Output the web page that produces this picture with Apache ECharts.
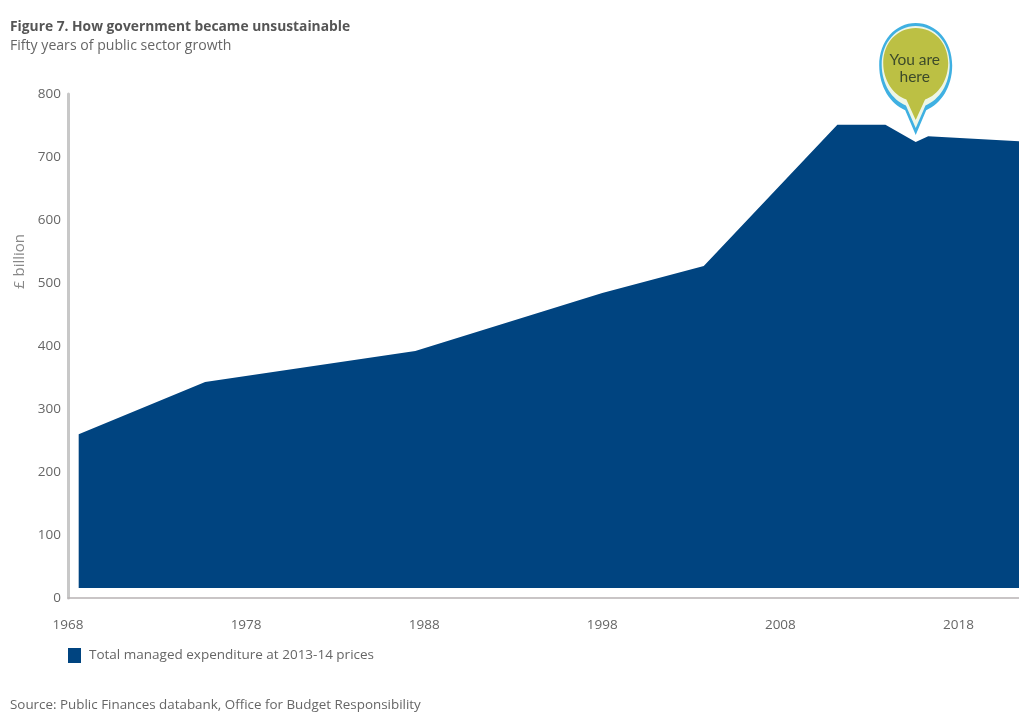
<!DOCTYPE html>
<html>
<head>
<meta charset="utf-8">
<style>html,body{margin:0;padding:0;background:#fff}#c{width:1019px;height:713px}</style>
<script src="https://cdn.jsdelivr.net/npm/echarts@6/dist/echarts.min.js"></script>
</head>
<body>
<div id="c"></div>
<script>
var years = [1968.6, 1975.7, 1987.5, 1998, 2003.7, 2011.2, 2013.9, 2015.6, 2016.3, 2021.4];
var expenditure = [260, 343, 392, 484, 527, 751, 751, 724, 733, 725];
var areaBase = 16;
var seriesName = 'Total managed expenditure at 2013-14 prices';
var titleText = 'Figure 7. How government became unsustainable';
var subtitleText = 'Fifty years of public sector growth';
var sourceText = 'Source: Public Finances databank, Office for Budget Responsibility';
var yAxisName = '£ billion';
var pinText = 'You are\nhere';
var pinAt = [2015.6, 735];

var font = '"Open Sans", "Noto Sans", sans-serif';
var pinPath = 'path://M36.5 113 L26 88 C11 82 0 64 0 43 C0 18 16 0 36.5 0 C57 0 73 18 73 43 C73 64 62 82 47 88 Z';
function pinLayer(w, h, tipLift, colour) {
  return {
    coord: pinAt,
    symbol: pinPath,
    symbolSize: [w, h],
    symbolOffset: [0, -(h / 2) - tipLift],
    itemStyle: {color: colour},
    label: {show: false}
  };
}
var olive = pinLayer(65, 92, 15, '#bcc044');
olive.label = {
  show: true, position: 'inside', offset: [-1, -5],
  formatter: pinText, fontFamily: 'Lato, ' + font, fontSize: 15.5, lineHeight: 17, color: '#3c4a2a'
};

var chart = echarts.init(document.getElementById('c'), null, {renderer: 'canvas'});
chart.setOption({
  animation: false,
  backgroundColor: '#ffffff',
  title: [
    {text: titleText, left: 10, top: 20, padding: 0, textStyle: {fontFamily: font, fontSize: 13.8, fontWeight: 'bold', color: '#555555'}},
    {text: subtitleText, left: 10, top: 39, padding: 0, textStyle: {fontFamily: font, fontSize: 14.1, fontWeight: 'normal', color: '#666666'}},
    {text: sourceText, left: 10, top: 699, padding: 0, textStyle: {fontFamily: font, fontSize: 13.4, fontWeight: 'normal', color: '#666666'}}
  ],
  legend: {
    show: true, left: 68, top: 648, padding: 0, itemWidth: 13, itemHeight: 15, itemGap: 8,
    icon: 'rect',
    textStyle: {fontFamily: font, fontSize: 13.5, color: '#666666', padding: [0, 0, 0, 3]},
    data: [seriesName]
  },
  graphic: [{
    type: 'text', left: 12, top: 234, rotation: Math.PI / 2,
    style: {text: yAxisName, fontFamily: font, fontSize: 15, fill: '#888888'}
  }],
  grid: {left: 68, right: 0, top: 94, bottom: 115},
  xAxis: {
    type: 'value', min: 1968, max: 2021.4, interval: 10,
    axisLine: {show: true, onZero: false, lineStyle: {color: '#b8b2b4', width: 1.5}},
    axisTick: {show: false}, splitLine: {show: false},
    axisLabel: {
      fontFamily: font, fontSize: 13.5, color: '#666666', margin: 20,
      showMaxLabel: false,
      formatter: function (v) { return String(v); }
    }
  },
  yAxis: {
    type: 'value', min: 0, max: 800, interval: 100,
    axisLine: {show: true, lineStyle: {color: '#c8c8c8', width: 3}},
    axisTick: {show: false}, splitLine: {show: false},
    axisLabel: {fontFamily: font, fontSize: 13.5, color: '#666666', margin: 7}
  },
  series: [{
    name: seriesName,
    type: 'line',
    symbol: 'none',
    itemStyle: {color: '#004480'},
    lineStyle: {width: 0, color: '#004480'},
    areaStyle: {color: '#004480', opacity: 1, origin: areaBase},
    data: years.map(function (y, i) { return [y, expenditure[i]]; }),
    markPoint: {
      silent: true,
      data: [
        pinLayer(79, 121, -6, '#ffffff'),
        pinLayer(73, 112, 0, '#3fb0e2'),
        pinLayer(68, 102, 7, '#eef6e6'),
        olive
      ]
    }
  }]
});
</script>
</body>
</html>
